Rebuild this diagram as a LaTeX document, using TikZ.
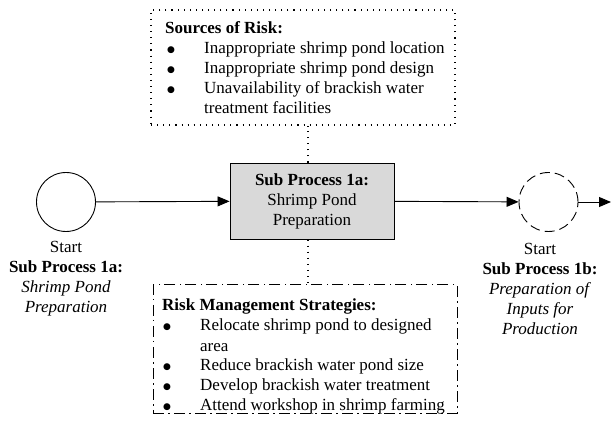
\documentclass[tikz,border=0pt]{standalone}
\usepackage{fontspec}
\setmainfont{Liberation Serif}
\newfontfamily\dejavu{DejaVu Sans}
\usetikzlibrary{arrows.meta,calc}
\definecolor{procgray}{HTML}{D9D9D9}
\newcommand{\bigbul}{\raisebox{1.5pt}{\dejavu\fontsize{9}{9}\selectfont ●}}
\begin{document}
\begin{tikzpicture}[x=1pt,y=1pt,
 txt/.style={font=\fontsize{17}{20}\selectfont, inner sep=0pt},
 dotline/.style={line width=1.1pt, dash pattern=on 1.1pt off 5pt},
 dashdotline/.style={line width=1pt, dash pattern=on 11pt off 4pt on 1.5pt off 4.5pt},
 arr/.style={line width=0.9pt, -{Triangle[length=12pt,width=10pt]}},
]
\useasboundingbox (0,0) rectangle (614,421);
% boxes
\node[draw, dotline, minimum width=304pt, minimum height=115pt, inner sep=0pt] (src) at (303,353.5) {};
\node[draw, dashdotline, minimum width=304pt, minimum height=128pt, inner sep=0pt] (rms) at (305,72) {};
% texts in boxes
\node[txt, anchor=base west] (srctxt) at (165,387) {\begin{tabular}[t]{@{}p{39pt}@{}l@{}}
\multicolumn{2}{@{}l@{}}{\textbf{Sources of Risk:}}\\
\hspace{2pt}\bigbul & Inappropriate shrimp pond location\\
\hspace{2pt}\bigbul & Inappropriate shrimp pond design\\
\hspace{2pt}\bigbul & Unavailability of brackish water\\
 & treatment facilities
\end{tabular}};
\node[txt, anchor=base west] (rmstxt) at (162,110) {\begin{tabular}[t]{@{}p{38pt}@{}l@{}}
\multicolumn{2}{@{}l@{}}{\textbf{Risk Management Strategies:}}\\
\hspace{1pt}\bigbul & Relocate shrimp pond to designed\\
 & area\\
\hspace{1pt}\bigbul & Reduce brackish water pond size\\
\hspace{1pt}\bigbul & Develop brackish water treatment\\
\hspace{1pt}\bigbul & Attend workshop in shrimp farming
\end{tabular}};
% process
\node[draw, line width=0.9pt, fill=procgray, minimum width=164pt, minimum height=76pt, txt, align=center] (proc) at (312,220) {\textbf{Sub Process 1a:}\\Shrimp Pond\\Preparation};
% events
\node[draw, circle, line width=0.9pt, minimum size=59pt, inner sep=0pt] (s1) at (66,219) {};
\node[draw, circle, line width=0.9pt, dash pattern=on 10pt off 5pt, minimum size=59pt, inner sep=0pt] (s2) at (548.5,219) {};
\coordinate (out) at (611,219);
% labels
\node[txt, align=center] (l1) at (66,142) {Start\\\textbf{Sub Process 1a:}\\\textit{Shrimp Pond}\\\textit{Preparation}};
\node[txt, align=center] (l2) at (540,132.5) {Start\\\textbf{Sub Process 1b:}\\\textit{Preparation of}\\\textit{Inputs for}\\\textit{Production}};
% connectors
\draw[arr] (s1) -- (proc);
\draw[arr] (proc) -- (s2);
\draw[arr] (s2.east) -- (out);
\draw[dotline] ([xshift=-4pt]proc.north) -- ([xshift=-4pt]proc.north |- src.south);
\draw[dotline] ([xshift=-4pt]proc.south) -- ([xshift=-4pt]proc.south |- rms.north);
\end{tikzpicture}
\end{document}
